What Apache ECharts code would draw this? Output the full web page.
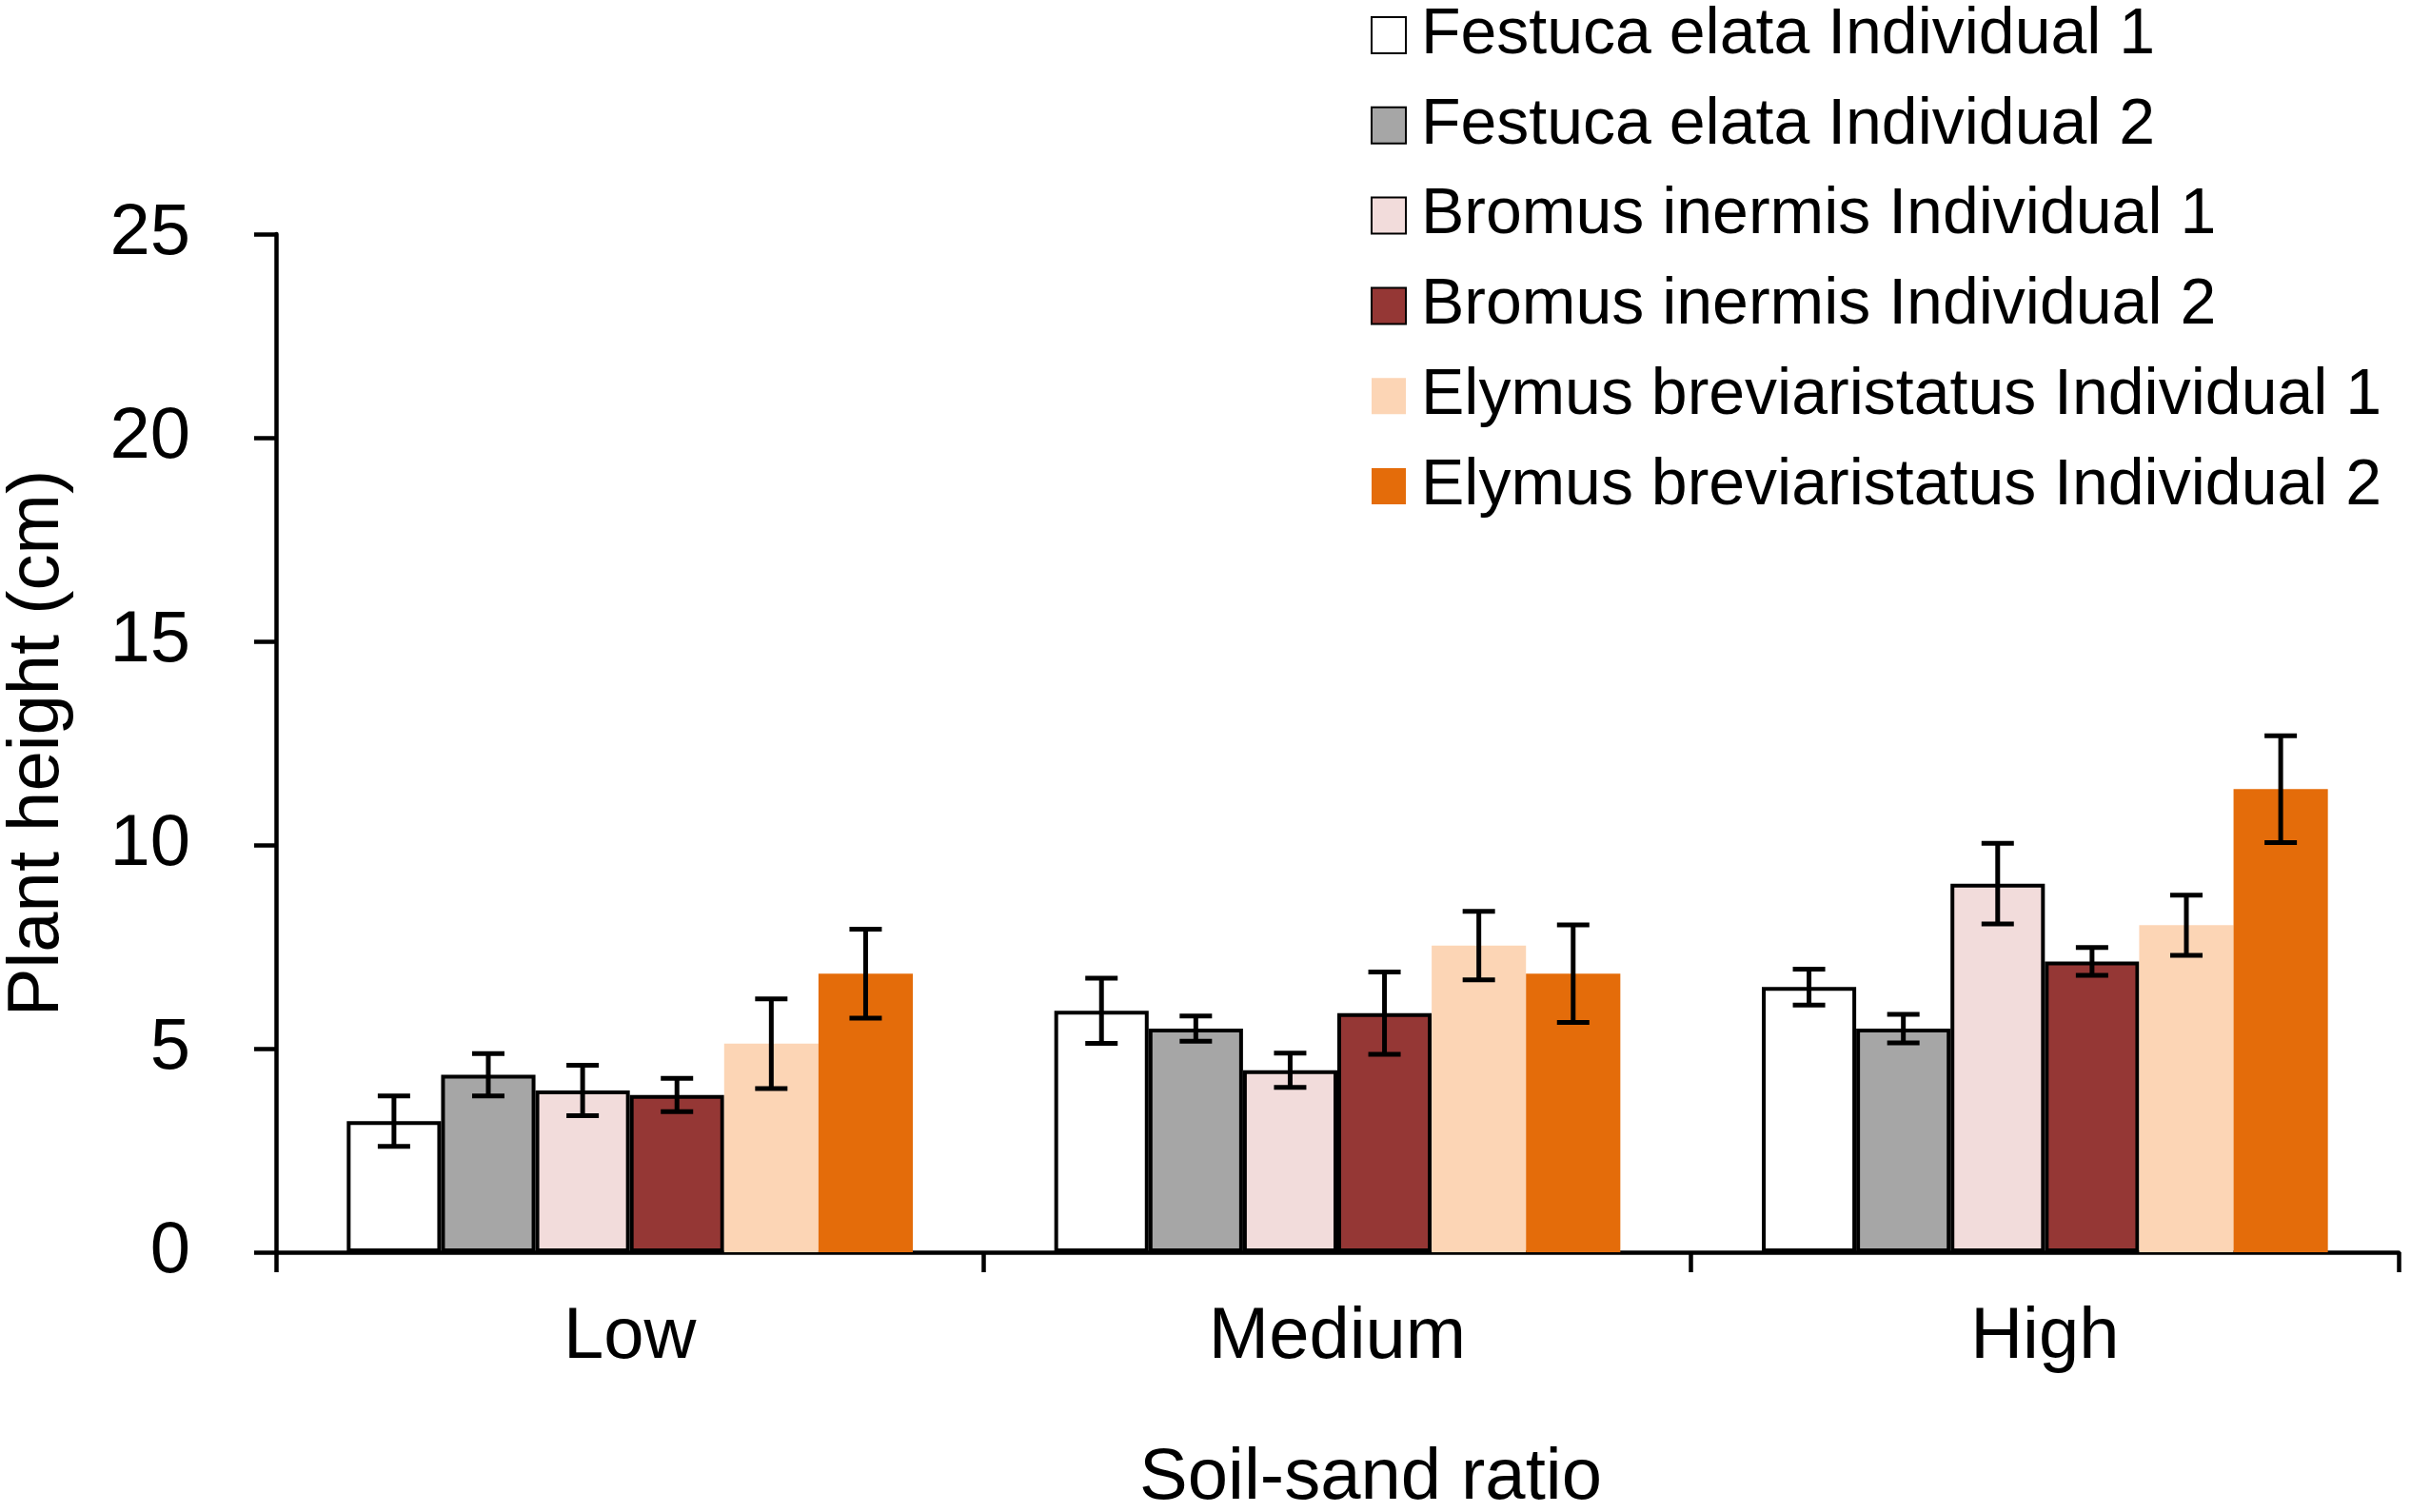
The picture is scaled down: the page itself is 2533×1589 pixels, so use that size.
<!DOCTYPE html>
<html lang="en">
<head>
    <meta charset="UTF-8">
    <title>Plant height by soil-sand ratio</title>
    <script src="https://cdn.jsdelivr.net/npm/echarts@6/dist/echarts.min.js"></script>
    <style>
        html, body { margin: 0; padding: 0; background: #fff; }
        #chart { width: 2533px; height: 1589px; }
    </style>
</head>
<body>
    <div id="chart"></div>
<script>
    // data
    var categories = ["Low", "Medium", "High"];
    var seriesNames = [
        "Festuca elata Individual 1",
        "Festuca elata Individual 2",
        "Bromus inermis Individual 1",
        "Bromus inermis Individual 2",
        "Elymus breviaristatus Individual 1",
        "Elymus breviaristatus Individual 2"
    ];
    var fe1 = [3.22, 5.93, 6.51];
    var fe2 = [4.36, 5.49, 5.49];
    var bi1 = [3.97, 4.47, 9.05];
    var bi2 = [3.86, 5.87, 7.14];
    var eb1 = [5.12, 7.53, 8.03];
    var eb2 = [6.84, 6.84, 11.37];
    // error bar half-lengths
    var fe1Err = [0.62, 0.80, 0.44];
    var fe2Err = [0.52, 0.31, 0.35];
    var bi1Err = [0.62, 0.42, 0.99];
    var bi2Err = [0.41, 1.01, 0.34];
    var eb1Err = [1.10, 0.84, 0.74];
    var eb2Err = [1.09, 1.20, 1.31];
    var yTicks = [0, 5, 10, 15, 20, 25];

    var means = [fe1, fe2, bi1, bi2, eb1, eb2];
    var errs = [fe1Err, fe2Err, bi1Err, bi2Err, eb1Err, eb2Err];
    var fills = ["#ffffff", "#a6a6a6", "#f2dcdb", "#953735", "#fcd5b5", "#e46c0a"];
    var bordered = [true, true, true, true, false, false];

    var FONT = "'Liberation Sans', Arial, Helvetica, sans-serif";
    var chart = echarts.init(document.getElementById("chart"));

    // draws one error bar per category, centred on the matching bar
    function errorBar(idx) {
        return function (params, api) {
            var c = api.value(0), m = api.value(1), e = api.value(2);
            var band = api.size([1, 0])[0];
            var bw = band * 0.8 / seriesNames.length;
            var x = api.coord([c, 0])[0] + (idx - (seriesNames.length - 1) / 2) * bw;
            var yt = api.coord([c, m + e])[1];
            var yb = api.coord([c, m - e])[1];
            var hw = 17;
            var st = { stroke: "#000", lineWidth: 5 };
            return {
                type: "group",
                children: [
                    { type: "line", shape: { x1: x, y1: yt, x2: x, y2: yb }, style: st },
                    { type: "line", shape: { x1: x - hw, y1: yt, x2: x + hw, y2: yt }, style: st },
                    { type: "line", shape: { x1: x - hw, y1: yb, x2: x + hw, y2: yb }, style: st }
                ]
            };
        };
    }

    var series = [];
    seriesNames.forEach(function (name, i) {
        series.push({
            name: name,
            type: "bar",
            barGap: "0%",
            barCategoryGap: "20%",
            itemStyle: {
                color: fills[i],
                borderColor: bordered[i] ? "#000" : fills[i],
                borderWidth: bordered[i] ? 4 : 0
            },
            emphasis: { disabled: true },
            data: means[i]
        });
    });
    seriesNames.forEach(function (name, i) {
        series.push({
            type: "custom",
            renderItem: errorBar(i),
            z: 10,
            silent: true,
            data: categories.map(function (c, j) { return [j, means[i][j], errs[i][j]]; })
        });
    });

    var option = {
        animation: false,
        backgroundColor: "#fff",
        textStyle: { fontFamily: FONT, color: "#000" },
        grid: { left: 290, right: 13, top: 246, bottom: 273, containLabel: false, outerBoundsMode: "none" },
        legend: {
            orient: "vertical",
            left: 1435,
            top: -2,
            itemWidth: 36,
            itemHeight: 38,
            itemGap: 26.8,
            selectedMode: false,
            textStyle: {
                fontFamily: FONT,
                fontSize: 68,
                lineHeight: 68,
                color: "#000",
                padding: [0, 0, 0, 11]
            },
            data: seriesNames.map(function (n) { return { name: n, icon: "rect" }; })
        },
        xAxis: {
            type: "category",
            data: categories,
            name: "Soil-sand ratio",
            nameLocation: "middle",
            nameGap: 200,
            nameTextStyle: { fontFamily: FONT, fontSize: 76, color: "#000", padding: [0, 0, 0, 70] },
            axisLine: { lineStyle: { color: "#000", width: 4.5 } },
            axisTick: { show: true, alignWithLabel: false, length: 21, lineStyle: { color: "#000", width: 4.5 } },
            axisLabel: { fontFamily: FONT, fontSize: 76, color: "#000", margin: 52 },
            splitLine: { show: false }
        },
        yAxis: {
            type: "value",
            min: yTicks[0],
            max: yTicks[yTicks.length - 1],
            interval: yTicks[1] - yTicks[0],
            name: "Plant height (cm)",
            nameLocation: "middle",
            nameGap: 212,
            nameTextStyle: { fontFamily: FONT, fontSize: 76, color: "#000" },
            axisLine: { show: true, lineStyle: { color: "#000", width: 4.5 } },
            axisTick: { show: true, length: 23, lineStyle: { color: "#000", width: 4.5 } },
            axisLabel: { fontFamily: FONT, fontSize: 76, color: "#000", margin: 90 },
            splitLine: { show: false }
        },
        series: series
    };
    chart.setOption(option);
</script>
</body>
</html>
